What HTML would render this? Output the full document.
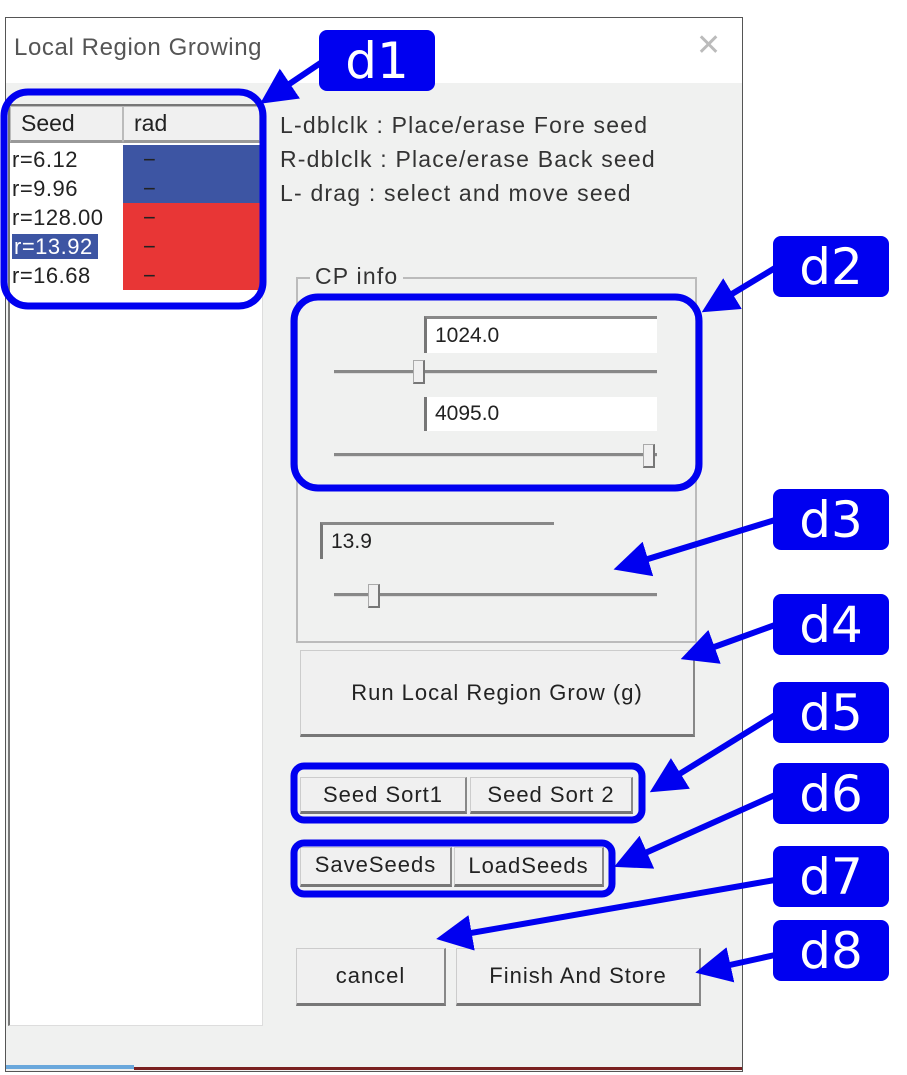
<!DOCTYPE html>
<html><head><meta charset="utf-8"><style>
*{margin:0;padding:0;box-sizing:border-box}
body{width:907px;height:1075px;background:#fff;position:relative;overflow:hidden;font-family:"Liberation Sans",sans-serif;color:#222}
.a{position:absolute}
.win{left:5px;top:17px;width:738px;height:1055px;border:1px solid #555;background:#f0f1f0}
.title{left:6px;top:18px;width:736px;height:65px;background:#fff}
.t{font-size:23px;color:#333;white-space:nowrap;letter-spacing:1.2px}
.list{left:8px;top:104px;width:255px;height:922px;background:#fff;border-left:2px solid #777;border-top:2px solid #777;border-right:1px solid #ddd;border-bottom:1px solid #ddd}
.hdr{background:#f0f0f0;border:1px solid #bbb;border-bottom:3px solid #999;font-size:23px;padding-left:10px;line-height:33px}
.row{font-size:22px;line-height:29px;letter-spacing:0.5px}
.btn{background:#f0f0f0;border:1px solid #ccc;border-right:2px solid #888;border-bottom:3px solid #777;font-size:22px;display:flex;align-items:center;justify-content:center;color:#222;letter-spacing:1px}
.inp{background:#fff;border-left:3px solid #777;border-top:3px solid #888;font-size:21px;padding-left:8px;display:flex;align-items:center}
.trk{height:4px;background:#888;border-bottom:1px solid #ddd}
.th{width:12px;height:24px;background:#f0f0f0;border:1px solid #aaa;border-right:2px solid #777;border-bottom:2px solid #777}
.lab{background:#0000f0;color:#fff;border-radius:8px;font-family:"DejaVu Sans",sans-serif;font-size:50px;display:flex;align-items:center;justify-content:center;width:116px;height:61px}
</style></head><body>
<div class="a win"></div>
<div class="a title"></div>
<div class="a t" style="left:14px;top:34px;color:#555;font-size:24px;letter-spacing:0.6px">Local Region Growing</div>
<div class="a" style="left:696px;top:28px;font-size:30px;color:#bbb">✕</div>
<div class="a" style="left:6px;top:1065px;width:128px;height:4px;background:#6aa8dc"></div>
<div class="a" style="left:134px;top:1067px;width:608px;height:3px;background:#7a2020"></div>

<div class="a list">
 <div style="display:flex"><div class="hdr" style="width:113px">Seed</div><div class="hdr" style="width:137px">rad</div></div>
 <div style="display:flex;flex-direction:column;margin-top:2px">
 <div style="display:flex"><div class="row" style="width:113px;padding-left:2px">r=6.12</div><div class="row" style="width:138px;background:#3d55a3;color:#222;padding-left:20px">−</div></div>
 <div style="display:flex"><div class="row" style="width:113px;padding-left:2px">r=9.96</div><div class="row" style="width:138px;background:#3d55a3;padding-left:20px">−</div></div>
 <div style="display:flex"><div class="row" style="width:113px;padding-left:2px">r=128.00</div><div class="row" style="width:138px;background:#e83636;padding-left:20px">−</div></div>
 <div style="display:flex"><div class="row" style="width:113px;padding-left:2px"><span style="background:#3d55a3;color:#fff;padding:0 5px 0 2px">r=13.92</span></div><div class="row" style="width:138px;background:#e83636;padding-left:20px">−</div></div>
 <div style="display:flex"><div class="row" style="width:113px;padding-left:2px">r=16.68</div><div class="row" style="width:138px;background:#e83636;padding-left:20px">−</div></div>
 </div>
</div>

<div class="a t" style="left:280px;top:112px">L-dblclk : Place/erase Fore seed</div>
<div class="a t" style="left:280px;top:146px">R-dblclk : Place/erase Back seed</div>
<div class="a t" style="left:280px;top:180px">L- drag : select and move seed</div>

<div class="a" style="left:296px;top:277px;width:401px;height:366px;border:2px solid #bbb"></div>
<div class="a t" style="left:310px;top:263px;background:#f0f1f0;padding:0 5px">CP info</div>
<div class="a inp" style="left:424px;top:316px;width:233px;height:37px">1024.0</div>
<div class="a trk" style="left:334px;top:370px;width:323px"></div>
<div class="a th" style="left:413px;top:360px"></div>
<div class="a inp" style="left:424px;top:397px;width:233px;height:34px;border-top:none">4095.0</div>
<div class="a trk" style="left:334px;top:453px;width:323px"></div>
<div class="a th" style="left:643px;top:444px"></div>
<div class="a inp" style="left:320px;top:522px;width:234px;height:37px;background:#f0f1f0">13.9</div>
<div class="a trk" style="left:334px;top:593px;width:323px"></div>
<div class="a th" style="left:368px;top:584px"></div>

<div class="a btn" style="left:300px;top:650px;width:395px;height:87px">Run Local Region Grow (g)</div>
<div class="a btn" style="left:300px;top:777px;width:167px;height:37px">Seed Sort1</div>
<div class="a btn" style="left:470px;top:777px;width:163px;height:37px">Seed Sort 2</div>
<div class="a btn" style="left:300px;top:847px;width:152px;height:40px;align-items:flex-start;padding-top:4px">SaveSeeds</div>
<div class="a btn" style="left:454px;top:847px;width:150px;height:40px">LoadSeeds</div>
<div class="a btn" style="left:296px;top:948px;width:150px;height:58px">cancel</div>
<div class="a btn" style="left:456px;top:948px;width:245px;height:58px">Finish And Store</div>

<svg class="a" style="left:0;top:0" width="907" height="1075">
<defs><marker id="ah" markerWidth="6" markerHeight="6" refX="4" refY="3" orient="auto" markerUnits="strokeWidth"><path d="M0,0 L6,3 L0,6 z" fill="#0000f0"/></marker></defs>
<g fill="none" stroke="#0000f0" stroke-width="7">
<rect x="4" y="92" width="259" height="214" rx="24"/>
<rect x="294" y="297" width="405" height="191" rx="24"/>
<rect x="294" y="766" width="348" height="54" rx="10"/>
<rect x="294" y="843" width="318" height="51" rx="10"/>
</g>
<g stroke="#0000f0" stroke-width="6" marker-end="url(#ah)">
<line x1="322" y1="62" x2="270" y2="97"/>
<line x1="775" y1="268" x2="712" y2="306"/>
<line x1="775" y1="520" x2="625" y2="566"/>
<line x1="775" y1="625" x2="692" y2="655"/>
<line x1="775" y1="715" x2="660" y2="786"/>
<line x1="775" y1="795" x2="625" y2="862"/>
<line x1="775" y1="880" x2="448" y2="937"/>
<line x1="775" y1="955" x2="707" y2="970"/>
</g>
</svg>

<div class="a lab" style="left:319px;top:30px">d1</div>
<div class="a lab" style="left:773px;top:236px">d2</div>
<div class="a lab" style="left:773px;top:489px">d3</div>
<div class="a lab" style="left:773px;top:594px">d4</div>
<div class="a lab" style="left:773px;top:682px">d5</div>
<div class="a lab" style="left:773px;top:763px">d6</div>
<div class="a lab" style="left:773px;top:846px">d7</div>
<div class="a lab" style="left:773px;top:920px">d8</div>
</body></html>
